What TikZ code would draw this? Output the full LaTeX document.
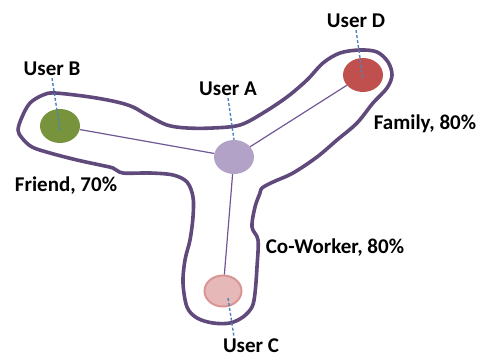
\documentclass[tikz,border=0pt]{standalone}
\usepackage{fontspec}
\setmainfont{Carlito}
\usetikzlibrary{shapes.geometric}
\definecolor{myoutline}{RGB}{96,74,123}
\definecolor{myedge}{RGB}{112,88,150}
\definecolor{mytag}{RGB}{79,129,189}
\definecolor{mygreen}{RGB}{119,147,60}
\definecolor{myred}{RGB}{192,80,77}
\definecolor{mylilac}{RGB}{178,162,199}
\definecolor{mypink}{RGB}{230,185,184}
\definecolor{mypinkring}{RGB}{217,149,148}

\begin{document}
\begin{tikzpicture}[
  x=1pt, y=-1pt,
  font=\fontsize{21}{24}\selectfont\bfseries,
  user/.style={
    ellipse,
    minimum width=40pt,
    minimum height=34pt,
    inner sep=0pt,
    fill=#1
    },
  edge/.style={
    draw=myedge,
    line width=1.2pt
  },
  tag/.style={
    draw=mytag,
    dash pattern=on 3pt off 2pt,
    line width=1.4pt
  },
  lbl/.style={
    inner sep=2pt
  }
]
\useasboundingbox (0,0) rectangle (481,358);

\draw[myoutline, line width=3.6pt, line join=round]
  plot[smooth cycle, tension=0.55] coordinates {
    (55,93) (90,97) (117,102) (133,107) (147,115) (167,125) (187,128)
    (213,128) (240,125) (263,113) (287,97) (307,80) (323,63) (340,53)
    (360,50) (377,52) (388,62) (392,75) (387,88) (373,103) (357,123)
    (337,140) (317,157) (293,173) (273,182) (262,188) (260,193)
    (255,207) (252,227) (258,240) (257,267) (255,293) (252,307)
    (243,317) (230,323) (213,323) (197,318) (187,307) (183,283)
    (185,260) (190,240) (193,217) (193,197) (187,182) (173,175)
    (150,173) (123,173) (113,168) (100,165) (77,160) (50,153)
    (32,147) (22,138) (18,130) (22,117) (30,103) (43,95)
  };

\node[user=mylilac] (userA) at (234,157) {};
\node[user=mygreen] (userB) at (60,126) {};
\node[user=mypink, draw=mypinkring, line width=2pt, minimum width=37pt, minimum height=31pt] (userC) at (223,291) {};
\node[user=myred] (userD) at (363,75) {};

\foreach \Other in {userB, userC, userD}
  \path[edge] (userA) -- (\Other);

\node[lbl] (labA) at (228,89) {User A};
\node[lbl] (labB) at (52,69) {User B};
\node[lbl] (labC) at (251,346) {User C};
\node[lbl] (labD) at (356,21) {User D};

\coordinate (tipC1) at (228,298);
\coordinate (tipC2) at (234,337);

\draw[tag] (labA.south) -- (userA.north);
\foreach \Lab/\Usr in {labB/userB, labD/userD}
  \draw[tag] (\Lab.south) -- ([yshift=-4pt]\Usr.center);
\draw[tag] (tipC1) -- (tipC2);

\node (friend) at (66,186) {Friend, 70\%};
\node (family) at (425,124) {Family, 80\%};
\node (cowork) at (335,248) {Co-Worker, 80\%};

\end{tikzpicture}
\end{document}
